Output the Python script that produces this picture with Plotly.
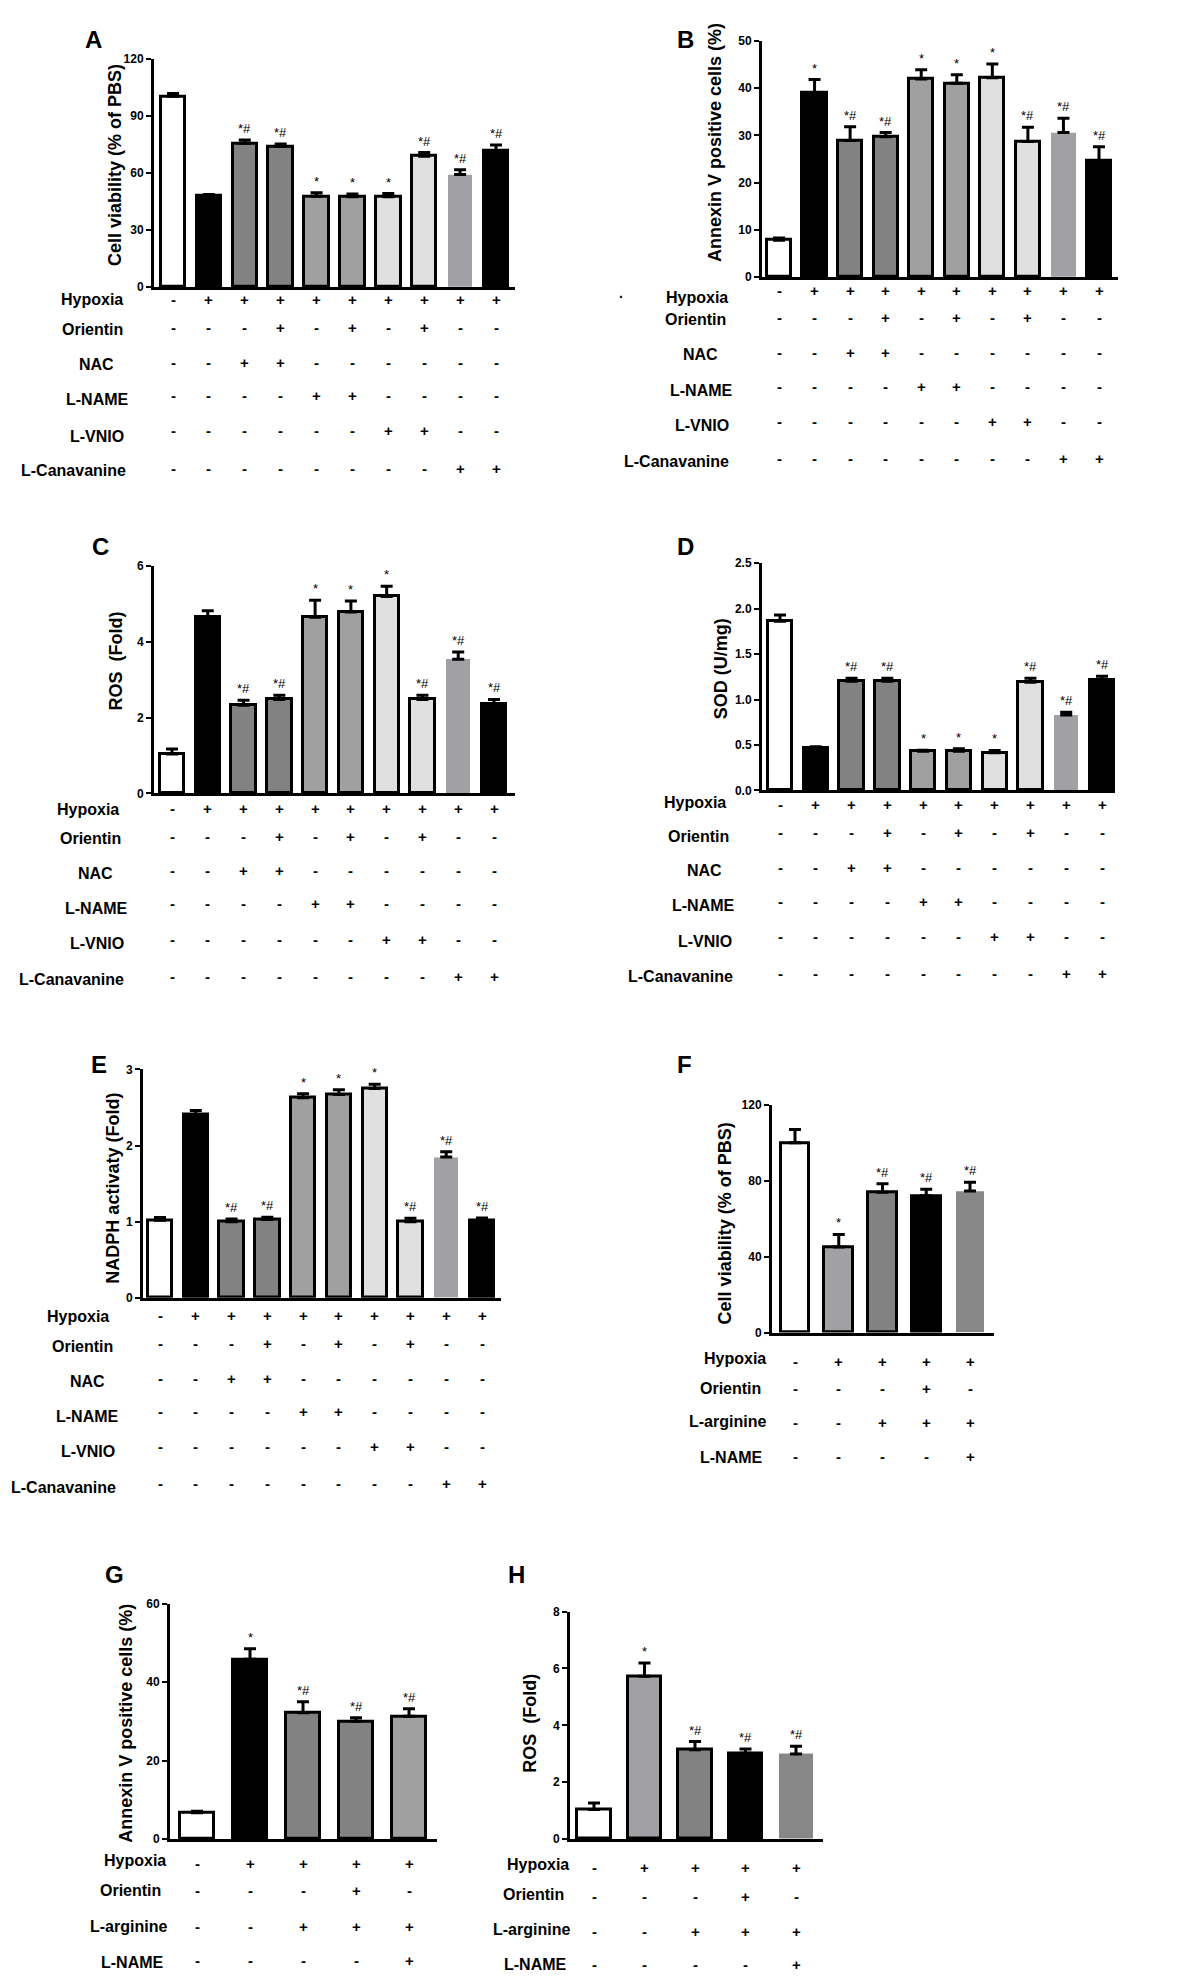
import plotly.graph_objects as go

W, H = 1200, 1979
FONT = "Liberation Sans, Arial, sans-serif"

# treatment tables shown under the bars
ROWS_1 = ["Hypoxia", "Orientin", "NAC", "L-NAME", "L-VNIO", "L-Canavanine"]
SIGNS_1 = [
    "-+++++++++",
    "---+-+-+--",
    "--++------",
    "----++----",
    "------++--",
    "--------++",
]
ROWS_2 = ["Hypoxia", "Orientin", "L-arginine", "L-NAME"]
SIGNS_2 = ["-++++", "---+-", "--+++", "----+"]

# A - cell viability
A_mean = [100.2, 48.2, 75.6, 73.8, 47.7, 47.4, 47.4, 68.8, 59.2, 71.6]
A_err = [1.5, 0.5, 1.7, 1.4, 1.8, 1.5, 1.7, 1.9, 2.4, 3.0]
A_sig = ["", "", "*#", "*#", "*", "*", "*", "*#", "*#", "*#"]

# B - annexin V
B_mean = [7.8, 38.9, 28.9, 29.7, 41.9, 41.0, 42.2, 28.7, 30.6, 24.6]
B_err = [0.5, 2.9, 2.9, 0.9, 2.0, 1.8, 2.9, 3.0, 3.0, 3.0]
B_sig = ["", "*", "*#", "*#", "*", "*", "*", "*#", "*#", "*#"]

# C - ROS
C_mean = [1.04, 4.65, 2.33, 2.48, 4.65, 4.79, 5.2, 2.48, 3.54, 2.36]
C_err = [0.13, 0.17, 0.13, 0.11, 0.45, 0.29, 0.27, 0.11, 0.19, 0.12]
C_sig = ["", "", "*#", "*#", "*", "*", "*", "*#", "*#", "*#"]

# D - SOD
D_mean = [1.86, 0.47, 1.2, 1.2, 0.43, 0.43, 0.415, 1.19, 0.83, 1.21]
D_err = [0.07, 0.01, 0.035, 0.035, 0.012, 0.03, 0.025, 0.045, 0.03, 0.045]
D_sig = ["", "", "*#", "*#", "*", "*", "*", "*#", "*#", "*#"]

# E - NADPH
E_mean = [1.02, 2.41, 1.0, 1.03, 2.63, 2.67, 2.75, 1.0, 1.85, 1.02]
E_err = [0.035, 0.05, 0.035, 0.03, 0.05, 0.065, 0.055, 0.045, 0.07, 0.03]
E_sig = ["", "", "*#", "*#", "*", "*", "*", "*#", "*#", "*#"]

# F - cell viability, L-arginine set
F_mean = [100.2, 45.2, 74.1, 72.2, 74.8]
F_err = [7.0, 6.6, 4.4, 3.5, 4.6]
F_sig = ["", "*", "*#", "*#", "*#"]

# G - annexin V, L-arginine set
G_mean = [6.7, 45.8, 32.2, 30.0, 31.3]
G_err = [0.35, 2.7, 2.8, 0.9, 1.9]
G_sig = ["", "*", "*#", "*#", "*#"]

# H - ROS, L-arginine set
H_mean = [1.04, 5.73, 3.14, 3.02, 2.99]
H_err = [0.23, 0.46, 0.29, 0.15, 0.27]
H_sig = ["", "*", "*#", "*#", "*#"]

FILL_1 = ["#ffffff", "#000000", "#828282", "#828282", "#a0a0a0",
          "#a0a0a0", "#e0e0e0", "#e0e0e0", "#a0a0a5", "#000000"]
LINE_1 = [3, 3, 3, 3, 3, 3, 3, 3, 0, 3]
FILL_F = ["#ffffff", "#a0a0a5", "#828282", "#000000", "#878787"]
LINE_F = [3, 3, 3, 3, 0]
FILL_G = ["#ffffff", "#000000", "#828282", "#828282", "#a0a0a0"]
LINE_G = [3, 3, 3, 3, 3]

panels = [
    dict(letter="A", mean=A_mean, err=A_err, sig=A_sig, fill=FILL_1, lw=LINE_1,
         rows=ROWS_1, signs=SIGNS_1, title="Cell viability (% of PBS)",
         yr=120, dt=30, fmt="", box=(146, 507, 44, 274), c=(165, 488),
         lp=(85, 25), tp=(107, 151),
         lab_r=[117, 117, 108, 123, 118, 120],
         lab_y=[287, 317, 352, 387, 424, 459],
         sgn_y=[287, 315, 350, 383, 418, 457]),
    dict(letter="B", mean=B_mean, err=B_err, sig=B_sig, fill=FILL_1, lw=LINE_1,
         rows=ROWS_1, signs=SIGNS_1, title="Annexin V positive cells (%)",
         yr=50, dt=10, fmt="", box=(754, 1110, 26, 264), c=(771, 1091),
         lp=(677, 25), tp=(707, 128),
         lab_r=[722, 720, 712, 727, 723, 723],
         lab_y=[285, 307, 342, 378, 413, 450],
         sgn_y=[277, 305, 340, 374, 409, 447]),
    dict(letter="C", mean=C_mean, err=C_err, sig=C_sig, fill=FILL_1, lw=LINE_1,
         rows=ROWS_1, signs=SIGNS_1, title="ROS&nbsp;&nbsp;(Fold)",
         yr=6, dt=2, fmt="", box=(146, 507, 555, 784), c=(164, 486),
         lp=(92, 535), tp=(108, 651),
         lab_r=[113, 115, 107, 122, 118, 118],
         lab_y=[800, 829, 865, 900, 935, 971],
         sgn_y=[799, 827, 862, 895, 931, 968]),
    dict(letter="D", mean=D_mean, err=D_err, sig=D_sig, fill=FILL_1, lw=LINE_1,
         rows=ROWS_1, signs=SIGNS_1, title="SOD (U/mg)",
         yr=2.5, dt=0.5, fmt=".1f", box=(754, 1107, 552, 781), c=(772, 1094),
         lp=(677, 535), tp=(713, 659),
         lab_r=[720, 723, 716, 729, 726, 727],
         lab_y=[793, 827, 862, 897, 933, 968],
         sgn_y=[795, 823, 859, 893, 928, 965]),
    dict(letter="E", mean=E_mean, err=E_err, sig=E_sig, fill=FILL_1, lw=LINE_1,
         rows=ROWS_1, signs=SIGNS_1, title="NADPH activaty (Fold)",
         yr=3, dt=1, fmt="", box=(135, 493, 1062, 1292), c=(152, 474),
         lp=(91, 1057), tp=(105, 1182),
         lab_r=[103, 107, 99, 113, 109, 110],
         lab_y=[1311, 1341, 1376, 1411, 1447, 1483],
         sgn_y=[1310, 1338, 1373, 1406, 1442, 1479]),
    dict(letter="F", mean=F_mean, err=F_err, sig=F_sig, fill=FILL_F, lw=LINE_F,
         rows=ROWS_2, signs=SIGNS_2, title="Cell viability (% of PBS)",
         yr=120, dt=40, fmt="", box=(764, 986, 1098, 1327), c=(787, 962),
         lp=(676, 1057), tp=(717, 1217),
         lab_r=[760, 755, 760, 757],
         lab_y=[1353, 1383, 1417, 1453],
         sgn_y=[1356, 1383, 1418, 1452]),
    dict(letter="G", mean=G_mean, err=G_err, sig=G_sig, fill=FILL_G, lw=LINE_G,
         rows=ROWS_2, signs=SIGNS_2, title="Annexin V positive cells (%)",
         yr=60, dt=20, fmt="", box=(162, 429, 1600, 1837), c=(189, 401),
         lp=(106, 1571), tp=(118, 1721),
         lab_r=[160, 155, 161, 158],
         lab_y=[1859, 1889, 1925, 1961],
         sgn_y=[1862, 1889, 1925, 1959]),
    dict(letter="H", mean=H_mean, err=H_err, sig=H_sig, fill=FILL_F, lw=LINE_F,
         rows=ROWS_2, signs=SIGNS_2, title="ROS&nbsp;&nbsp;(Fold)",
         yr=8, dt=2, fmt="", box=(562, 815, 1608, 1837), c=(586, 788),
         lp=(508, 1571), tp=(522, 1721),
         lab_r=[563, 558, 564, 561],
         lab_y=[1863, 1893, 1928, 1963],
         sgn_y=[1866, 1895, 1930, 1963]),
]


def px(x):
    return x / W


def py(y):
    return 1 - y / H


fig = go.Figure()
annotations = []
layout = {}

for i, p in enumerate(panels, start=1):
    xa = "x" if i == 1 else f"x{i}"
    ya = "y" if i == 1 else f"y{i}"
    n = len(p["mean"])
    left, right, top, bottom = p["box"]
    c0, c1 = p["c"]
    sp = (c1 - c0) / (n - 1)
    bw = 0.68 if n > 5 else 0.66

    fig.add_trace(go.Bar(
        x=list(range(n)), y=p["mean"], width=bw,
        marker=dict(color=p["fill"], line=dict(color="black", width=p["lw"])),
        error_y=dict(type="data", array=p["err"], arrayminus=[0] * n,
                     symmetric=False, color="black", thickness=3, width=6),
        xaxis=xa, yaxis=ya, showlegend=False, hoverinfo="skip",
    ))

    layout["xaxis" if i == 1 else f"xaxis{i}"] = dict(
        domain=[px(left), px(right)], anchor=ya,
        range=[-(c0 - left) / sp, (n - 1) + (right - c1) / sp],
        showline=True, linecolor="black", linewidth=3,
        showticklabels=False, ticks="", showgrid=False, zeroline=False,
        fixedrange=True,
    )
    ticks = []
    v = 0.0
    while v <= p["yr"] + 1e-9:
        ticks.append(round(v, 3))
        v += p["dt"]
    layout["yaxis" if i == 1 else f"yaxis{i}"] = dict(
        domain=[py(bottom), py(top)], anchor=xa,
        range=[0, p["yr"]], tickvals=ticks, tickformat=p["fmt"],
        showline=True, linecolor="black", linewidth=3,
        ticks="outside", ticklen=5, tickwidth=2, tickcolor="black",
        tickfont=dict(family=FONT, size=12, color="black", weight="bold"),
        showgrid=False, zeroline=False, fixedrange=True,
    )

    # panel letter
    annotations.append(dict(
        text=f"<b>{p['letter']}</b>", x=px(p["lp"][0]), y=py(p["lp"][1]),
        xref="paper", yref="paper", xanchor="center", yanchor="middle",
        showarrow=False, font=dict(family=FONT, size=24, color="black"),
    ))
    # y-axis title
    annotations.append(dict(
        text=f"<b>{p['title']}</b>", x=px(p["tp"][0]), y=py(p["tp"][1]),
        xref="paper", yref="paper", xanchor="center", yanchor="middle",
        textangle=-90, showarrow=False,
        font=dict(family=FONT, size=18, color="black"),
    ))
    # significance marks
    for j in range(n):
        if p["sig"][j]:
            annotations.append(dict(
                text=p["sig"][j], x=j, y=p["mean"][j] + p["err"][j],
                xref=xa, yref=ya, xanchor="center", yanchor="bottom",
                yshift=2, showarrow=False,
                font=dict(family=FONT, size=13, color="black"),
            ))
    # treatment rows
    for r, label in enumerate(p["rows"]):
        annotations.append(dict(
            text=f"<b>{label}</b>", x=px(p["lab_r"][r]), y=py(p["lab_y"][r]),
            xref="paper", yref="paper", xanchor="right", yanchor="middle",
            showarrow=False, font=dict(family=FONT, size=16, color="black"),
        ))
        for j, s in enumerate(p["signs"][r]):
            annotations.append(dict(
                text=f"<b>{s}</b>", x=j, y=py(p["sgn_y"][r]),
                xref=xa, yref="paper", xanchor="center", yanchor="middle",
                showarrow=False, font=dict(family=FONT, size=15, color="black"),
            ))

# stray dot between A and B
annotations.append(dict(
    text="<b>.</b>", x=px(613), y=py(270), xref="paper", yref="paper",
    showarrow=False, font=dict(family=FONT, size=14, color="black"),
))

fig.update_layout(
    width=W, height=H,
    margin=dict(l=0, r=0, t=0, b=0),
    paper_bgcolor="white", plot_bgcolor="white",
    bargap=0, annotations=annotations,
    **layout,
)

fig.write_html("out.html")
